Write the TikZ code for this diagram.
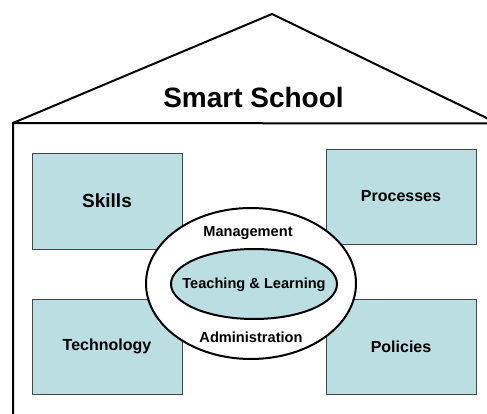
\documentclass[tikz,border=0pt]{standalone}
\usepackage{fontspec}
\setmainfont{Liberation Sans}
\usetikzlibrary{shapes.geometric}
\definecolor{boxblue}{RGB}{187,222,227}
\definecolor{boxline}{RGB}{70,70,70}
\tikzset{
  housestroke/.style={draw=black, line width=2pt},
  pillar/.style={draw=boxline, line width=0.8pt, fill=boxblue, minimum width=150pt, minimum height=95pt, inner sep=0pt, font=\bfseries\fontsize{16}{18}\selectfont},
  ring/.style={ellipse, draw=black, line width=2pt, inner sep=0pt},
  lbl/.style={font=\bfseries\fontsize{14.6}{16}\selectfont, inner sep=0pt}
}
\begin{document}
\begin{tikzpicture}[x=1pt,y=-1pt]
\useasboundingbox (0,0) rectangle (487,414);
\clip (0,0) rectangle (487,414);
\fill[white] (0,0) rectangle (487,414);
% house
\coordinate (apex) at (272,14);
\coordinate (eaveL) at (13,123);
\coordinate (eaveR) at (498,123.5);
\coordinate (wallR) at (510,123.5);
\coordinate (baseL) at (13,430);
\draw[housestroke, line join=miter] (eaveL) -- (apex) -- (eaveR);
\draw[housestroke] (baseL) -- (eaveL) -- (wallR);
\node[font=\bfseries\fontsize{28}{30}\selectfont, inner sep=0pt] (title) at (253.5,97) {Smart School};
% pillars
\node[pillar, font=\bfseries\fontsize{19}{21}\selectfont, minimum height=96pt] (skills) at (107,201) {Skills};
\node[pillar] (proc) at (401,196.5) {Processes};
\node[pillar] (tech) at (107,346.5) {Technology};
\node[pillar] (pol) at (401,346.5) {Policies};
% rings
\node[ring, fill=white, minimum width=210pt, minimum height=151pt] (outer) at (251,283.5) {};
\node[ring, fill=boxblue, minimum width=166pt, minimum height=70pt] (inner) at (254,284) {};
\node[lbl] (tl) at (254,285) {Teaching \& Learning};
\node[lbl] (mg) at (248,233) {Management};
\node[lbl] (ad) at (251,337) {Administration};
\end{tikzpicture}
\end{document}
